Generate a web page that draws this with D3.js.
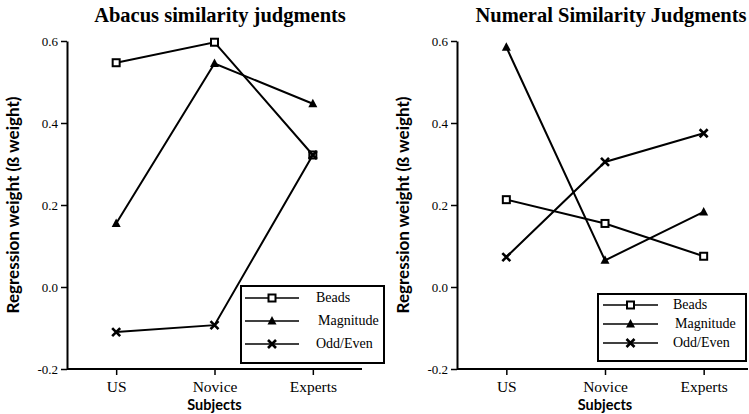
<!DOCTYPE html>
<html>
<head>
<meta charset="utf-8">
<script src="https://cdn.jsdelivr.net/npm/d3@7"></script>
<style>
  body { margin: 0; background: #fff; }
  svg { display: block; }
</style>
</head>
<body>
<svg id="chart" width="749" height="414"></svg>
<script>
// values
var subjects = ["US", "Novice", "Experts"];
var seriesNames = ["Beads", "Magnitude", "Odd/Even"];
var yTicks = [-0.2, 0.0, 0.2, 0.4, 0.6];

var abacusBeads = [0.547, 0.597, 0.322];
var abacusMagnitude = [0.155, 0.545, 0.447];
var abacusOddEven = [-0.110, -0.093, 0.322];

var numeralBeads = [0.213, 0.155, 0.075];
var numeralMagnitude = [0.585, 0.065, 0.183];
var numeralOddEven = [0.073, 0.305, 0.375];

var serif = "'Liberation Serif', 'DejaVu Serif', serif";
var sans = "Lato, 'Liberation Sans', sans-serif";

var svg = d3.select("#chart");

function marker(g, kind, x, y) {
  if (kind === "Beads") {
    g.append("rect")
      .attr("x", x - 3.5).attr("y", y - 3.5)
      .attr("width", 7).attr("height", 7)
      .attr("fill", "#fff").attr("stroke", "#000").attr("stroke-width", 2);
  } else if (kind === "Magnitude") {
    g.append("path")
      .attr("d", "M" + x + "," + (y - 5) + "L" + (x + 4.5) + "," + (y + 3.5) + "L" + (x - 4.5) + "," + (y + 3.5) + "Z")
      .attr("fill", "#000");
  } else {
    g.append("path")
      .attr("d", "M" + (x - 4) + "," + (y - 4) + "L" + (x + 4) + "," + (y + 4) + "M" + (x + 4) + "," + (y - 4) + "L" + (x - 4) + "," + (y + 4))
      .attr("stroke", "#000").attr("stroke-width", 2.6);
  }
}

function drawPanel(opt) {
  var g = svg.append("g");
  var x = d3.scalePoint().domain(subjects).range([opt.x0, opt.x1]).padding(0.5);
  var y = d3.scaleLinear().domain([-0.2, 0.6]).range([369, 41]);

  // y axis
  var ya = g.append("g")
    .attr("transform", "translate(" + opt.x0 + ",0)")
    .call(d3.axisLeft(y).tickValues(yTicks).tickSize(6).tickSizeOuter(0)
      .tickFormat(function(d) { return d.toFixed(1); }));
  ya.select(".domain").attr("stroke-width", 2);
  ya.selectAll(".tick line").attr("stroke-width", 1.5);
  ya.selectAll(".tick text").attr("font-family", serif).attr("font-size", 13).attr("x", -9);

  // x axis
  var xa = g.append("g")
    .attr("transform", "translate(0,369)")
    .call(d3.axisBottom(x).tickSize(6).tickSizeOuter(0));
  xa.select(".domain").attr("d", "M" + opt.x0 + ",0H" + opt.axisEnd).attr("stroke-width", 2);
  xa.selectAll(".tick line").attr("stroke-width", 1.5);
  xa.selectAll(".tick text").attr("font-family", serif).attr("font-size", 15.5)
    .attr("y", 12).attr("fill", "#000");

  g.append("text")
    .attr("x", x("Novice")).attr("y", 410)
    .attr("text-anchor", "middle")
    .attr("font-family", sans).attr("font-weight", "bold").attr("font-size", 14.5)
    .text("Subjects");

  g.append("text")
    .attr("transform", "translate(" + (opt.x0 - 48) + ",205) rotate(-90)")
    .attr("text-anchor", "middle")
    .attr("font-family", sans).attr("font-weight", "bold").attr("font-size", 17)
    .text("Regression weight (\u00df weight)");

  g.append("text")
    .attr("x", opt.titleX).attr("y", 22)
    .attr("text-anchor", "middle")
    .attr("font-family", serif).attr("font-weight", "bold").attr("font-size", 20.5)
    .text(opt.title);

  // lines + markers
  var line = d3.line()
    .x(function(d, i) { return x(subjects[i]); })
    .y(function(d) { return y(d); });

  opt.series.forEach(function(vals, si) {
    g.append("path")
      .attr("d", line(vals))
      .attr("fill", "none").attr("stroke", "#000").attr("stroke-width", 2);
    vals.forEach(function(v, i) {
      marker(g, seriesNames[si], x(subjects[i]), y(v));
    });
  });

  // legend
  var lb = opt.legend;
  var lg = g.append("g");
  lg.append("rect")
    .attr("x", lb.x).attr("y", lb.y).attr("width", lb.w).attr("height", lb.h)
    .attr("fill", "#fff").attr("stroke", "#000").attr("stroke-width", 2);
  seriesNames.forEach(function(name, i) {
    var ry = lb.rowY[i];
    lg.append("line")
      .attr("x1", lb.lineX0).attr("x2", lb.lineX1).attr("y1", ry).attr("y2", ry)
      .attr("stroke", "#000").attr("stroke-width", 1.5);
    marker(lg, name, (lb.lineX0 + lb.lineX1) / 2, ry);
    lg.append("text")
      .attr("x", lb.textX + (name === "Magnitude" ? 2 : 0)).attr("y", ry + 4)
      .attr("font-family", serif).attr("font-size", 14)
      .text(name);
  });
}

drawPanel({
  title: "Abacus similarity judgments",
  titleX: 220,
  x0: 67, x1: 362, axisEnd: 362,
  series: [abacusBeads, abacusMagnitude, abacusOddEven],
  legend: { x: 241, y: 286, w: 143, h: 77, lineX0: 245, lineX1: 299, textX: 316, rowY: [298, 321, 344] }
});

drawPanel({
  title: "Numeral Similarity Judgments",
  titleX: 611,
  x0: 457, x1: 753, axisEnd: 748,
  series: [numeralBeads, numeralMagnitude, numeralOddEven],
  legend: { x: 598, y: 294, w: 148, h: 67, lineX0: 603, lineX1: 658, textX: 673, rowY: [305, 324, 343] }
});
</script>
</body>
</html>
